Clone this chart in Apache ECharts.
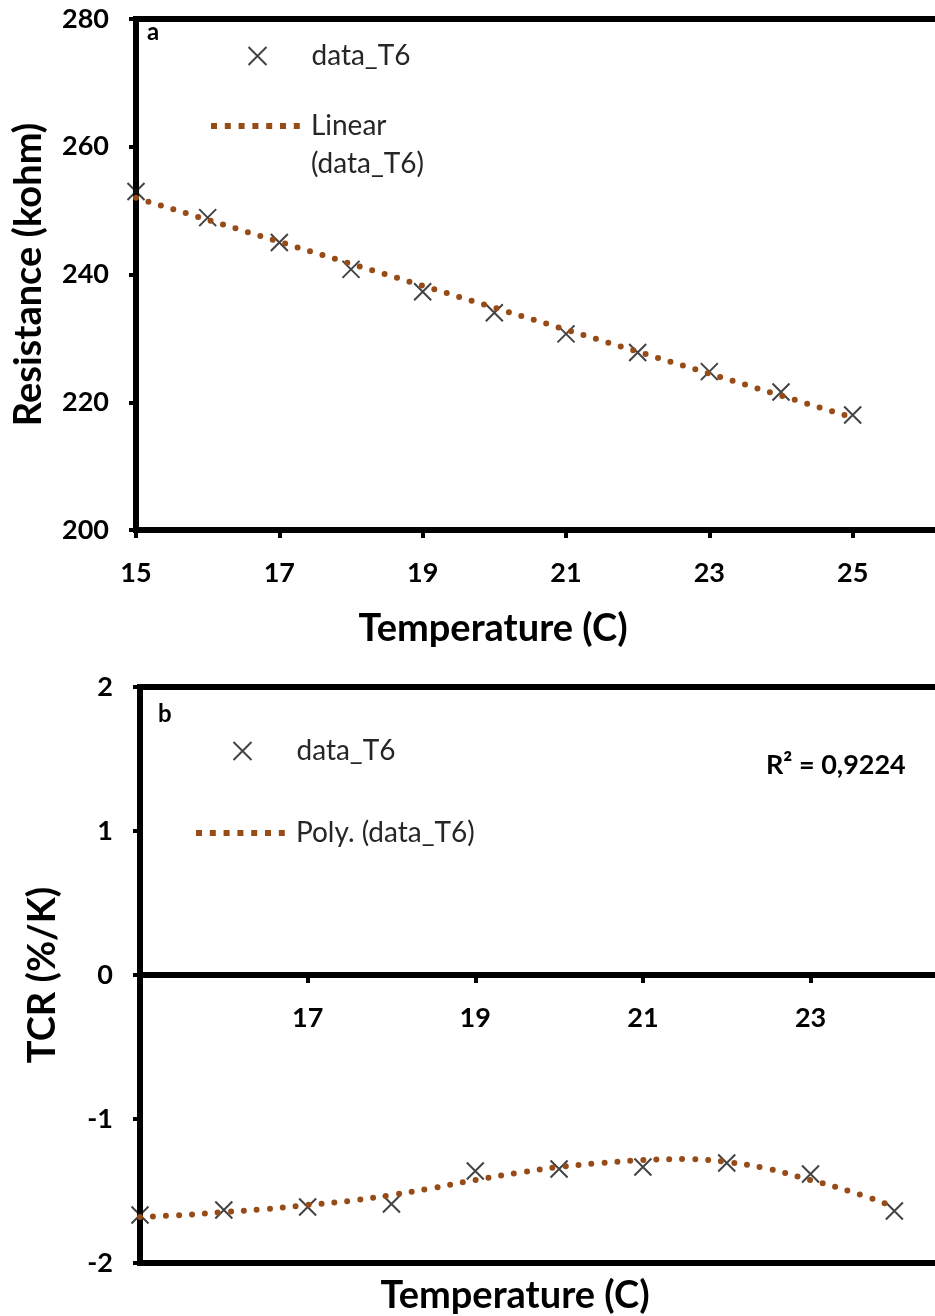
<!DOCTYPE html>
<html>
<head>
<meta charset="utf-8">
<title></title>
<script src="https://cdn.jsdelivr.net/npm/echarts@6/dist/echarts.min.js" type="text/javascript" charset="utf-8"></script>
<style>html,body{margin:0;padding:0;background:#fff;}</style>
</head>
<body>
<div id="mainChart" style="width: 935px;height:1316px;"></div>
<script type="text/javascript">
// panel a : resistance vs temperature
var tempA = [15, 16, 17, 18, 19, 20, 21, 22, 23, 24, 25];
var resistA = [253.0, 248.9, 245.0, 240.8, 237.3, 234.0, 230.7, 227.8, 224.8, 221.6, 218.0];
var linTempA = [15, 25];
var linResA = [252.0, 217.6];
var yTicksA = [200, 220, 240, 260, 280];
var xTicksA = [15, 17, 19, 21, 23, 25];

// panel b : TCR vs temperature
var tempB = [15, 16, 17, 18, 19, 20, 21, 22, 23, 24];
var tcrB = [-1.667, -1.632, -1.611, -1.590, -1.361, -1.347, -1.333, -1.306, -1.382, -1.639];
var polyTempB = [15, 15.5, 16, 16.5, 17, 17.5, 18, 18.5, 19, 19.5, 20, 20.5, 21, 21.5, 22, 22.5, 23, 23.5, 24];
var polyTcrB = [-1.68, -1.667, -1.646, -1.625, -1.597, -1.569, -1.528, -1.479, -1.424, -1.375, -1.333, -1.306, -1.285, -1.278, -1.299, -1.347, -1.424, -1.507, -1.61];
var yTicksB = [-2, -1, 0, 1, 2];
var xTicksB = [15, 17, 19, 21, 23, 25];

var brown = '#974B16';
var markColor = '#141414';
var crossPath = 'path://M0,0L20,20M20,0L0,20';
var dotsPath = 'path://M0,0h6v6h-6z M13.8,0h6v6h-6z M27.6,0h6v6h-6z M41.4,0h6v6h-6z M55.2,0h6v6h-6z M69,0h6v6h-6z M82.8,0h6v6h-6z';
var fontFam = 'Lato, "Open Sans", sans-serif';

function pairs(xs, ys) {
	var out = [];
	for (var i = 0; i < xs.length; i++) {
		out.push([xs[i], ys[i]]);
	}
	return out;
}

// offset lifts panel b's axis (labels and title too) up to the zero line
function axisX(grid, ticks, max, offset, gap, pad) {
	return {
		type: 'value', gridIndex: grid,
		min: ticks[0], max: max, interval: ticks[1] - ticks[0],
		offset: offset,
		axisLine: { onZero: false, lineStyle: { color: '#000', width: 6 } },
		axisTick: { show: true, inside: false, length: 8, lineStyle: { color: '#000', width: 4 } },
		axisLabel: { fontSize: 27, fontWeight: 'bold', color: '#000', fontFamily: fontFam, margin: 30, showMinLabel: grid === 0 },
		splitLine: { show: false },
		name: 'Temperature (C)', nameLocation: 'middle', nameGap: gap,
		nameTextStyle: { fontSize: 38, fontWeight: 'bold', color: '#000', fontFamily: fontFam, padding: [0, pad, 0, 0] }
	};
}

function axisY(grid, ticks, name, gap) {
	return {
		type: 'value', gridIndex: grid,
		min: ticks[0], max: ticks[ticks.length - 1], interval: ticks[1] - ticks[0],
		axisLine: { lineStyle: { color: '#000', width: 6 } },
		axisTick: { show: true, inside: false, length: 7, lineStyle: { color: '#000', width: 4 } },
		axisLabel: { fontSize: 27, fontWeight: 'bold', color: '#000', fontFamily: fontFam, margin: 27 },
		splitLine: { show: false },
		name: name, nameLocation: 'middle', nameGap: gap, nameRotate: 90,
		nameTextStyle: { fontSize: 38, fontWeight: 'bold', color: '#000', fontFamily: fontFam }
	};
}

function legendBox(left, top, name, iconW, iconH, icon, itemStyle, textStyle) {
	return {
		left: left, top: top, orient: 'vertical', padding: 0,
		itemWidth: iconW, itemHeight: iconH, selectedMode: false,
		data: [{ name: name, icon: icon, itemStyle: itemStyle }],
		textStyle: textStyle
	};
}

var crossStyle = { color: 'none', borderColor: markColor, borderWidth: 2 };
var dotStyle = { color: brown, borderWidth: 0 };
// X icon is 18px wide, text starts well after the icon edge
var crossText = { fontSize: 28, color: '#262626', fontFamily: fontFam, lineHeight: 30, padding: [0, 0, 0, 40] };
var dotText = { fontSize: 28, color: '#262626', fontFamily: fontFam, lineHeight: 38, padding: [0, 0, 0, 6] };

var dom = document.getElementById('mainChart');
var myChart = echarts.init(dom);

var option = {
	animation: false,
	backgroundColor: '#fff',
	grid: [
		{ left: 136, top: 19, width: 860, height: 511, outerBoundsMode: 'none', containLabel: false,
			show: true, borderColor: '#000', borderWidth: 6 },
		{ left: 140, top: 687, width: 922, height: 576, outerBoundsMode: 'none', containLabel: false,
			show: true, borderColor: '#000', borderWidth: 6 }
	],
	xAxis: [
		axisX(0, xTicksA, 27, 0, 80, 146),
		axisX(1, xTicksB, 26, -288, 302, 172)
	],
	yAxis: [
		axisY(0, yTicksA, 'Resistance (kohm)', 88),
		axisY(1, yTicksB, 'TCR (%/K)', 78)
	],
	legend: [
		legendBox(246, 41, 'data_T6', 18, 18, crossPath, crossStyle, crossText),
		legendBox(211, 69, 'Linear (data_T6)', 89, 6, dotsPath, dotStyle, dotText),
		legendBox(231, 736, 'data_T6', 18, 18, crossPath, crossStyle, crossText),
		legendBox(196, 814, 'Poly. (data_T6)', 89, 6, dotsPath, dotStyle, dotText)
	],
	series: [
		{
			name: 'data_T6', type: 'scatter', xAxisIndex: 0, yAxisIndex: 0,
			symbol: crossPath, symbolSize: 17,
			itemStyle: crossStyle,
			data: pairs(tempA, resistA)
		},
		{
			name: 'Linear (data_T6)', type: 'line', xAxisIndex: 0, yAxisIndex: 0,
			showSymbol: false, color: brown,
			lineStyle: { color: brown, width: 6, type: [0, 13], cap: 'round' },
			data: pairs(linTempA, linResA)
		},
		{
			name: 'data_T6', type: 'scatter', xAxisIndex: 1, yAxisIndex: 1,
			symbol: crossPath, symbolSize: 17,
			itemStyle: crossStyle,
			data: pairs(tempB, tcrB)
		},
		{
			name: 'Poly. (data_T6)', type: 'line', xAxisIndex: 1, yAxisIndex: 1,
			showSymbol: false, smooth: 0.4, color: brown,
			lineStyle: { color: brown, width: 6, type: [0, 13], cap: 'round' },
			data: pairs(polyTempB, polyTcrB)
		}
	],
	graphic: [
		{ type: 'text', left: 147, top: 20, style: { text: 'a', fontSize: 24, fontWeight: 'bold', fill: '#000', fontFamily: fontFam } },
		{ type: 'text', left: 158, top: 702, style: { text: 'b', fontSize: 24, fontWeight: 'bold', fill: '#000', fontFamily: fontFam } },
		{ type: 'text', left: 766, top: 752, style: { text: 'R\u00b2 = 0,9224', fontSize: 27, fontWeight: 'bold', fill: '#000', fontFamily: fontFam } }
	]
};

// first line of the trend label sits level with its icon, the second one below it
option.legend[1].formatter = function (name) {
	return '\n' + name.replace(' ', '\n');
};

myChart.setOption(option, true);
</script>
</body>
</html>
